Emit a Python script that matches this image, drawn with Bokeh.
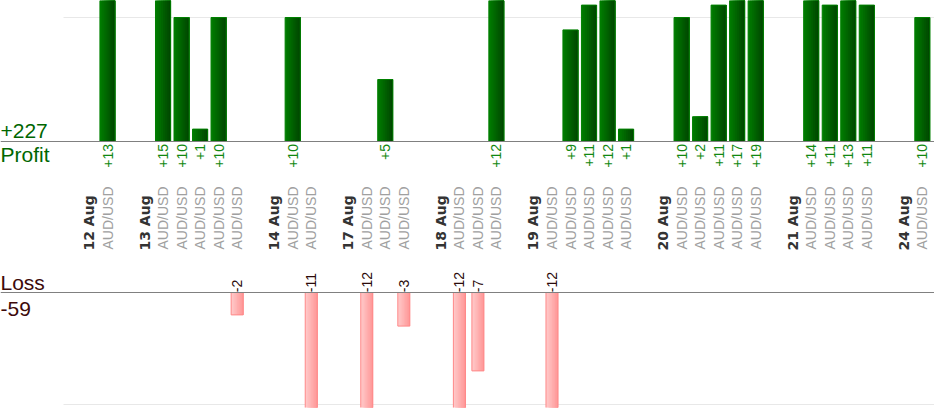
import math
from bokeh.plotting import figure
from bokeh.models import ColumnDataSource, Range1d, Span
from bokeh.layouts import column
from bokeh.transform import dodge
from bokeh.core.properties import value
from bokeh.embed import file_html
from bokeh.resources import INLINE

# ---------------- data ----------------
days = ["12 Aug", "13 Aug", "14 Aug", "17 Aug", "18 Aug", "19 Aug", "20 Aug", "21 Aug", "24 Aug"]
trades_per_day = [1, 5, 2, 3, 3, 5, 5, 4, 1]
pips = [13,
        15, 10, 1, 10, -2,
        10, -11,
        -12, 5, -3,
        -12, -7, 12,
        -12, 9, 11, 12, 1,
        10, 2, 11, 17, 19,
        14, 11, 13, 11,
        10]
pairs = ["AUD/USD"] * len(pips)

# ---------------- slot layout (derived from data) ----------------
day_slot = []
trade_slot = []
s = 0
for d, n in zip(days, trades_per_day):
    day_slot.append(s)
    s += 1
    for _ in range(n):
        trade_slot.append(s)
        s += 1
    s += 1  # gap after each day

prof_x = [x for x, v in zip(trade_slot, pips) if v > 0]
prof_v = [v for v in pips if v > 0]
loss_x = [x for x, v in zip(trade_slot, pips) if v < 0]
loss_v = [v for v in pips if v < 0]
total_profit = sum(prof_v)
total_loss = sum(loss_v)

# ---------------- geometry ----------------
W = 934
H1 = 262
H2 = 158
BOTTOM_PAD = 13
X0_PAGE = 88.5   # page x of slot 0
STEP = 18.52     # px per slot
x_start = (0 - X0_PAGE) / STEP
x_end = (W - X0_PAGE) / STEP
grid_start = (63 - X0_PAGE) / STEP

PPU1 = 12.4      # px per pip, profit
BASE1 = 141      # baseline offset from top of figure 1
PPU2 = 11.2      # px per pip, loss
BASE2 = 292 - H1
F2 = H2 - BOTTOM_PAD
TXT_FIX = 6.5    # px correction for alphabetic baseline placement

xr = Range1d(x_start, x_end)
yr1 = Range1d(-(H1 - BASE1) / PPU1, BASE1 / PPU1)
yr2 = Range1d(-(F2 - BASE2) / PPU2, BASE2 / PPU2)

FONT = value("Liberation Sans")


def mkfig(h, yr, **kw):
    p = figure(width=W, height=h, x_range=xr, y_range=yr, output_backend="svg",
               toolbar_location=None, min_border=0, x_axis_type=None, y_axis_type=None,
               outline_line_color=None, background_fill_color="white",
               border_fill_color="white", **kw)
    return p


def hex_lerp(c1, c2, t):
    a = [int(c1[i:i + 2], 16) for i in (1, 3, 5)]
    b = [int(c2[i:i + 2], 16) for i in (1, 3, 5)]
    return "#%02x%02x%02x" % tuple(round(a[j] + (b[j] - a[j]) * t) for j in range(3))


def gradient_bars(p, src, width, c_left, c_right, border, n=8):
    # nested, right-anchored layers -> smooth left-to-right gradient without seams
    for i in range(n):
        wi = width * (n - i) / n
        off = width / 2 - wi / 2
        p.vbar(x=dodge("x", off), top="top", bottom=0, width=wi, source=src,
               fill_color=hex_lerp(c_left, c_right, i / (n - 1)), line_color=None)
    p.vbar(x="x", top="top", bottom=0, width=width, source=src,
           fill_color=None, line_color=border, line_width=1)


# ---------------- top: profit ----------------
p1 = mkfig(H1, yr1)
p1.segment(x0=[grid_start], x1=[x_end], y0=[10], y1=[10], line_color="#e8e8e8", line_width=1)
p1.add_layout(Span(location=0, dimension="width", line_color="#808080", line_width=1))

psrc = ColumnDataSource(dict(x=prof_x, top=prof_v, lab=["+%d" % v for v in prof_v]))
gradient_bars(p1, psrc, 0.82, "#007a00", "#004800", "#008000")

p1.text(x="x", y=-2.5 / PPU1, text="lab", source=psrc, angle=math.pi / 2,
        text_align="right", text_baseline="middle", text_font=FONT,
        text_font_size="14px", text_color="#118811")

# category labels
p1.text(x=trade_slot, y=[-(249 - BASE1) / PPU1] * len(trade_slot), text=pairs,
        angle=math.pi / 2, text_align="left", text_baseline="middle",
        text_font=FONT, text_font_size="14px", text_color="#a0a0a0")
p1.text(x=day_slot, y=[-(250 - BASE1) / PPU1] * len(day_slot), text=days,
        angle=math.pi / 2, text_align="left", text_baseline="middle",
        text_font=value("DejaVu Sans"), text_font_style="bold",
        text_font_size="14px", text_color="#333333")

p1.text(x=[x_start], y=[(3.7 + TXT_FIX) / PPU1], text=["+%d" % total_profit], text_align="left",
        text_baseline="alphabetic", text_font=FONT, text_font_size="21px",
        text_color="#006600")
p1.text(x=[x_start], y=[-(160 - BASE1 - TXT_FIX) / PPU1], text=["Profit"], text_align="left",
        text_baseline="alphabetic", text_font=FONT, text_font_size="21px",
        text_color="#006600")

# ---------------- bottom: loss ----------------
p2 = mkfig(H2, yr2, min_border_bottom=BOTTOM_PAD)
p2.segment(x0=[grid_start], x1=[x_end], y0=[-10], y1=[-10], line_color="#e8e8e8", line_width=1)
p2.add_layout(Span(location=0, dimension="width", line_color="#808080", line_width=1))

lsrc = ColumnDataSource(dict(x=loss_x, top=loss_v, lab=["%d" % v for v in loss_v]))
gradient_bars(p2, lsrc, 0.65, "#ffc8c8", "#ff9999", "#ff8888")

p2.text(x="x", y=0.3 / PPU2, text="lab", source=lsrc, angle=math.pi / 2,
        text_align="left", text_baseline="middle", text_font=FONT,
        text_font_size="14px", text_color="#2b0a0a")

p2.text(x=[x_start], y=[(3.2 + TXT_FIX) / PPU2], text=["Loss"], text_align="left",
        text_baseline="alphabetic", text_font=FONT, text_font_size="21px",
        text_color="#3d0a0a")
p2.text(x=[x_start], y=[-(314.7 - 292 - TXT_FIX) / PPU2], text=["%d" % total_loss],
        text_align="left", text_baseline="alphabetic", text_font=FONT,
        text_font_size="21px", text_color="#3d0a0a")

layout = column(p1, p2, spacing=0)
open("out.html", "w").write(file_html(layout, INLINE))
